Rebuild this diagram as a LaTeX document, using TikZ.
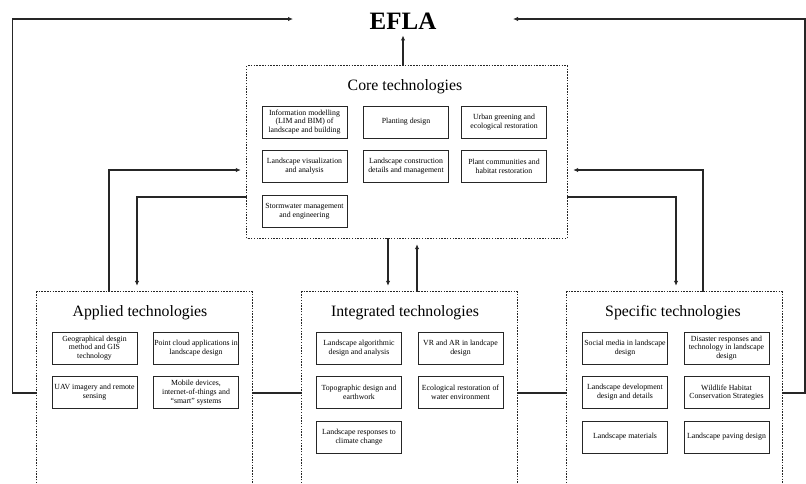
\documentclass[tikz,border=0pt]{standalone}
\usepackage{fontspec}
\setmainfont{Liberation Serif}
\usetikzlibrary{arrows.meta}

\tikzset{
  container/.style={draw=none, minimum width=215pt, inner sep=0pt},
  outline/.style={draw=black!85, line width=1.1pt, dash pattern=on 1.5pt off 1.3pt},
  item/.style={draw=black!85, line width=0.9pt, minimum width=85pt, minimum height=32pt,
    inner sep=1pt, align=center, font=\fontsize{7.8}{8.8}\selectfont},
  grouptitle/.style={font=\fontsize{15.8}{18}\selectfont, inner sep=0pt},
  link/.style={draw=black!85, line width=1.1pt},
  arr/.style={link, -{Latex[length=5pt,width=4.5pt]}, shorten >=6pt},
}

\begin{document}
\begin{tikzpicture}[x=1pt,y=-1pt]
\useasboundingbox (0,0) rectangle (806,483);

% top node
\node[font=\fontsize{25}{28}\selectfont\bfseries, inner sep=0pt] (efla) at (403,21) {EFLA};

% core group
\node[draw=none, minimum width=320pt, minimum height=172pt, inner sep=0pt] (core) at (407,152) {};
\draw[outline] (core.south west) rectangle (core.north east);
\node[grouptitle] (coreT) at (405,87) {Core technologies};
\node[item] (c1) at (304.5,122) {Information modelling\\(LIM and BIM) of\\landscape and building};
\node[item] (c2) at (406,122) {Planting design};
\node[item] (c3) at (504,122) {Urban greening and\\ecological restoration};
\node[item] (c4) at (304.5,166.5) {Landscape visualization\\and analysis};
\node[item] (c5) at (406,166.5) {Landscape construction\\details and management};
\node[item] (c6) at (504,166.5) {Plant communities and\\habitat restoration};
\node[item] (c7) at (304.5,211) {Stormwater management\\and engineering};

% lower groups (open at the bottom)
\node[container, minimum height=191pt] (app) at (144.5,387.5) {};
\node[container, minimum height=191pt] (int) at (409.5,387.5) {};
\node[container, minimum height=191pt] (spec) at (674.5,387.5) {};
\foreach \g in {app,int,spec}
  \draw[outline] (\g.south west) -- (\g.north west) -- (\g.north east) -- (\g.south east);

\node[grouptitle] (appT) at (140,313) {Applied technologies};
\node[item] (a1) at (94.5,348) {Geographical desgin\\method and GIS\\technology};
\node[item] (a2) at (196,348) {Point cloud applications in\\landscape design};
\node[item] (a3) at (94.5,392.5) {UAV imagery and remote\\sensing};
\node[item] (a4) at (196,392.5) {Mobile devices,\\internet-of-things and\\“smart” systems};

\node[grouptitle] (intT) at (405,313) {Integrated technologies};
\node[item] (i1) at (359,348) {Landscape algorithmic\\design and analysis};
\node[item] (i2) at (460.5,348) {VR and AR in landcape\\design};
\node[item] (i3) at (359,392.5) {Topographic design and\\earthwork};
\node[item] (i4) at (460.5,392.5) {Ecological restoration of\\water environment};
\node[item] (i5) at (359,437) {Landscape responses to\\climate change};

\node[grouptitle] (specT) at (673,313) {Specific technologies};
\node[item] (s1) at (625,348) {Social media in landscape\\design};
\node[item] (s2) at (726.5,348) {Disaster responses and\\technology in landscape\\design};
\node[item] (s3) at (625,392.5) {Landscape development\\design and details};
\node[item] (s4) at (726.5,392.5) {Wildlife Habitat\\Conservation Strategies};
\node[item] (s5) at (625,437) {Landscape materials};
\node[item] (s6) at (726.5,437) {Landscape paving design};

% outer feedback buses to EFLA
\coordinate (busL) at (12.5,19);
\coordinate (busR) at (805,19);
\coordinate (inL) at (299,19);
\coordinate (inR) at (507,19);
\draw[arr] (app.west |- 0,393) -| (busL) -- (inL);
\draw[arr] (spec.east |- 0,393) -| (busR) -- (inR);

% core up to EFLA
\draw[arr] (core.north -| 403,0) -- (efla.south -| 403,0);

% horizontal links between lower groups
\draw[link] (app.east |- 0,393) -- (int.west |- 0,393);
\draw[link] (int.east |- 0,393) -- (spec.west |- 0,393);

% applied <-> core
\draw[arr] (app.north -| 109,0) |- (core.west |- 0,170);
\draw[arr] (core.west |- 0,197) -| (app.north -| 137,0);

% integrated <-> core
\draw[arr] (core.south -| 388,0) -- (int.north -| 388,0);
\draw[arr] (int.north -| 417,0) -- (core.south -| 417,0);

% specific <-> core
\draw[arr] (spec.north -| 703,0) |- (core.east |- 0,170);
\draw[arr] (core.east |- 0,197) -| (spec.north -| 676,0);
\end{tikzpicture}
\end{document}
